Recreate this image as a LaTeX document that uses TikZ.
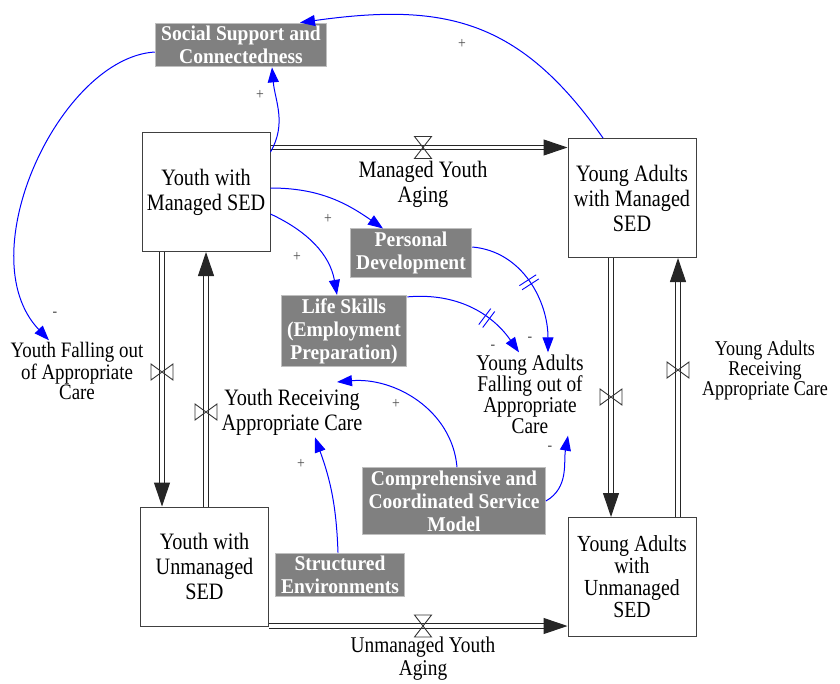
\documentclass[tikz,border=0pt]{standalone}
\usepackage{fontspec}
\setmainfont{Liberation Serif}[FakeStretch=0.86]
\newfontfamily\auxfont{Liberation Serif}[FakeStretch=0.93]
\usetikzlibrary{arrows.meta, positioning}
\definecolor{LinkBlue}{rgb}{0, 0, 1}
\definecolor{AuxGray}{rgb}{0.5, 0.5, 0.5}
\definecolor{AuxEdge}{rgb}{0.75, 0.75, 0.75}

\begin{document}
\begin{tikzpicture}[
    x=1pt, y=1pt,
    font=\fontsize{23.5}{25}\selectfont,
    stock/.style={draw=black!75, line width=1pt, align=center,
        minimum width=128pt, minimum height=119pt, inner sep=2pt},
    aux/.style={fill=AuxGray, draw=AuxEdge, line width=1pt, text=white,
        align=center, font=\auxfont\bfseries\fontsize{21}{23}\selectfont,
        inner xsep=6pt, inner ysep=3pt},
    rate/.style={align=center, inner sep=2pt},
    pipe/.style={draw=black!85, line width=1pt, double=white,
        double distance=3.5pt, -{Triangle[length=24pt, width=16pt]}},
    link/.style={LinkBlue, line width=1pt, -{Triangle[length=15pt, width=11pt]}},
    pol/.style={text=black!70, font=\fontsize{16}{16}\selectfont, inner sep=0pt},
    delay/.style={sloped, inner sep=0pt, text=LinkBlue},
    valveh/.pic={\draw[black!80, line width=0.9pt]
        (-8.5,11) -- (8.5,11) -- (-8.5,-11) -- (8.5,-11) -- cycle;},
    valvev/.pic={\draw[black!80, line width=0.9pt]
        (-11,8) -- (-11,-8) -- (11,8) -- (11,-8) -- cycle;},
]
\useasboundingbox (0,0) rectangle (840,-683);

% stocks
\node[stock] (ym) at (206,-192) {Youth with\\Managed SED};
\node[stock] (am) at (632,-198) {Young Adults\\with Managed\\SED};
\node[stock] (yu) at (204.5,-566.5) {Youth with\\Unmanaged\\SED};
\node[stock, font=\fontsize{23}{22}\selectfont] (au) at (632,-577)
    {Young Adults\\with\\Unmanaged\\SED};

% flows
\coordinate (mrow) at (0,-147.5);
\coordinate (urow) at (0,-626);
\coordinate (yfcol) at (162,0);
\coordinate (yrcol) at (206,0);
\coordinate (afcol) at (611,0);
\coordinate (arcol) at (678,0);

\draw[pipe] (ym.east |- mrow) -- (am.west |- mrow);
\draw[pipe] (yu.east |- urow) -- (au.west |- urow);
\draw[pipe] (ym.south -| yfcol) -- (yu.north -| yfcol);
\draw[pipe] (yu.north -| yrcol) -- (ym.south -| yrcol);
\draw[pipe] (am.south -| afcol) -- (au.north -| afcol);
\draw[pipe] (au.north -| arcol) -- (am.south -| arcol);

\pic at (423,-147.5) {valveh};
\pic at (423,-626) {valveh};
\pic at (162,-372) {valvev};
\pic at (206,-412) {valvev};
\pic at (611,-397) {valvev};
\pic at (678,-370) {valvev};

\node[rate] (mage) at (423,-184) {Managed Youth\\Aging};
\node[rate, font=\fontsize{22.5}{23}\selectfont] (uage) at (423,-659)
    {Unmanaged Youth\\Aging};
\node[rate, font=\fontsize{22}{19}\selectfont] (yfall) at (77,-371)
    {Youth Falling out\\of Appropriate\\Care};
\node[rate] (yrec) at (292,-412) {Youth Receiving\\Appropriate Care};
\node[rate, font=\fontsize{22.5}{17.5}\selectfont] (afall) at (530,-394)
    {Young Adults\\Falling out of\\Appropriate\\Care};
\node[rate, font=\fontsize{21}{20}\selectfont] (arec) at (765,-370)
    {Young Adults\\Receiving\\Appropriate Care};

% auxiliaries
\node[aux] (soc) at (241,-45) {Social Support and\\Connectedness};
\node[aux] (pdev) at (411,-253) {Personal\\Development};
\node[aux] (lskill) at (344,-331) {Life Skills\\(Employment\\Preparation)};
\node[aux] (comp) at (454,-501) {Comprehensive and\\Coordinated Service\\Model};
\node[aux] (struct) at (340,-575) {Structured\\Environments};

% causal links
\coordinate (rtip) at (337,-382);
\draw[link] ([xshift=-29pt]am.north) to[out=125, in=8, looseness=1.15]
    ([xshift=59pt]soc.north);
\draw[link] ([yshift=-20pt]ym.north east) to[out=60, in=-85] ([xshift=31pt]soc.south);
\draw[link] ([yshift=-7pt]soc.west) .. controls (60,-58) and (-32,-255) ..
    ([xshift=-28pt]yfall.north);
\draw[link] ([yshift=4pt]ym.east) to[out=0, in=145] ([xshift=-28pt]pdev.north);
\draw[link] ([yshift=-22pt]ym.east) to[out=-25, in=100] ([xshift=-7pt]lskill.north);
\draw[link] ([yshift=-2pt]lskill.north east) to[out=5, in=125]
    node[delay, pos=0.65] {\rule{0.9pt}{20pt}\hspace{4pt}\rule{0.9pt}{20pt}}
    ([xshift=-11pt]afall.north);
\draw[link] ([yshift=6pt]pdev.east) to[out=-5, in=90]
    node[delay, pos=0.5] {\rule{0.9pt}{20pt}\hspace{4pt}\rule{0.9pt}{20pt}}
    ([xshift=18pt]afall.north);
\draw[link] ([xshift=3pt]comp.north) to[out=95, in=5] (rtip);
\draw[link] (comp.east) to[out=30, in=-100] ([xshift=38pt]afall.south);
\draw[link] ([xshift=-2pt]struct.north) to[out=92, in=-70] ([xshift=23pt]yrec.south);

% polarities
\node[pol] (p1) at (462,-44) {+};
\node[pol] (p2) at (260,-95) {+};
\node[pol] (p3) at (55,-314) {-};
\node[pol] (p4) at (328,-219) {+};
\node[pol] (p5) at (297,-257) {+};
\node[pol] (p6) at (493,-347) {-};
\node[pol] (p7) at (530,-339) {-};
\node[pol] (p8) at (396,-404) {+};
\node[pol] (p9) at (550,-448) {-};
\node[pol] (p10) at (301,-464) {+};

\end{tikzpicture}
\end{document}
